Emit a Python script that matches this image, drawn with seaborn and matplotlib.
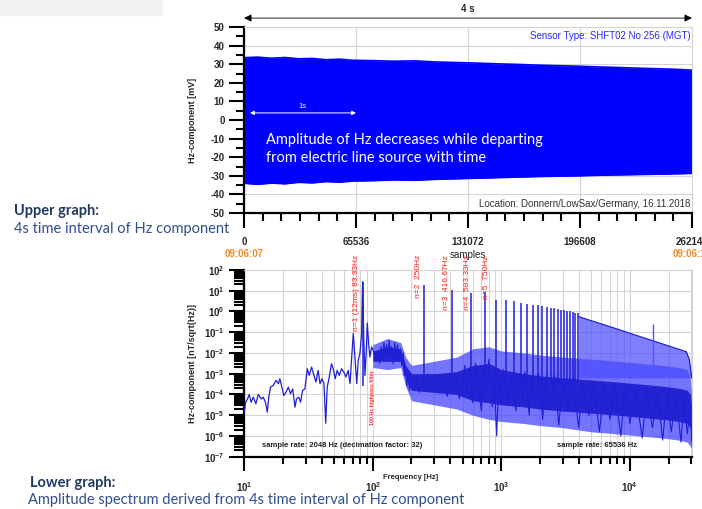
import numpy as np
import seaborn as sns
import matplotlib.pyplot as plt
from matplotlib.patches import Rectangle
from matplotlib.ticker import MultipleLocator, FixedLocator, FuncFormatter, LogLocator, NullFormatter

# ---- upper graph: envelope of the 4 s Hz time series ----
time_samples = [0, 8000, 16000, 24000, 32000, 40000, 48000, 56000, 64000, 76000, 88000,
                100000, 112000, 124000, 136000, 148000, 160000, 172000, 184000, 196000,
                208000, 220000, 232000, 244000, 254000, 262144]
upper_env = [33.5, 33.8, 33.2, 33.6, 32.9, 33.1, 32.4, 32.7, 32.1, 31.9, 31.6, 31.8, 31.2,
             30.9, 30.6, 30.2, 29.9, 29.5, 29.2, 28.9, 28.5, 28.2, 27.8, 27.5, 27.2, 26.8]
lower_env = [-34.0, -34.6, -33.9, -34.3, -33.5, -33.8, -33.1, -33.4, -32.8, -32.6, -32.2,
             -32.4, -31.9, -31.6, -31.3, -31.0, -30.7, -30.4, -30.2, -30.0, -29.7, -29.5,
             -29.3, -29.1, -28.9, -28.7]
sample_ticks = [0, 65536, 131072, 196608, 262144]

# ---- lower graph: amplitude spectrum (log10 of nT/sqrt(Hz)) ----
lf_freq = [10, 10.24, 10.6, 10.9, 11.3, 11.75, 12.3, 12.85, 13.5, 14.05, 14.6, 15.1, 15.5, 16.0,
           16.8, 17.65, 18.4, 18.9, 19.6, 20.3, 21.1, 22.0, 22.9, 23.8, 24.8, 25.5, 26.5, 27.4,
           28.4, 29.6, 30.9, 32.0, 33.4, 34.8, 36.1, 37.5, 38.8, 40.2, 41.7, 43.0, 44.2, 45.8,
           47.7, 49.2, 51.0, 52.8, 54.8, 57.1, 59.5, 61.8, 64.3, 66.5, 68.5, 70.5, 72.0, 75.0,
           77.0, 79.3, 81.7, 83.3, 85.0, 86.9, 89.0, 90.6, 92.8, 95.0, 97.9, 100.6, 105.8, 109.5,
           113, 116, 119, 122, 125, 128, 131, 134, 137, 140, 144, 148, 152, 156, 160, 164, 168,
           172, 176, 180, 184, 188, 193, 198]
lf_exp = [-4.85, -4.37, -4.21, -4.0, -4.37, -4.13, -4.45, -4.0, -4.21, -4.13, -4.37, -4.85,
          -4.13, -3.65, -3.56, -3.32, -3.48, -3.24, -3.65, -4.05, -3.89, -3.65, -3.97, -3.73,
          -4.61, -4.21, -4.13, -4.37, -3.81, -3.73, -2.76, -3.08, -2.68, -3.08, -3.4, -2.84,
          -3.48, -3.24, -3.48, -5.39, -3.65, -3.16, -2.52, -2.76, -3.24, -2.84, -3.08, -2.76,
          -2.92, -3.16, -2.84, -3.48, -2.19, -1.06, -1.87, -3.48, -2.35, -2.03, -1.15, 1.44,
          -1.23, -3.08, -1.87, -0.55, -1.55, -2.19, -1.71, -1.87, -2.35, -1.95, -2.5, -1.7,
          -2.3, -1.5, -2.1, -1.6, -2.4, -1.4, -2.0, -1.7, -2.5, -1.5, -2.2, -1.6, -2.4, -1.8,
          -2.6, -2.0, -3.1, -2.7, -3.6, -3.0, -3.8, -3.2]

mid_freq = [200, 210, 220, 230, 240, 260, 270, 285, 300, 315, 330, 345, 360, 380, 400, 430,
            450, 470, 500, 520, 540, 560, 600, 630, 660, 700, 730, 770, 800, 850, 880, 920,
            960, 1000, 1040, 1120, 1180, 1300, 1350, 1480, 1520, 1650, 1700, 1850, 1950, 2100,
            2200, 2400, 2600, 2800, 3000, 3300, 3600, 4000, 4300, 4800, 5200, 5800, 6300, 7000,
            7600, 8500, 9200, 10000, 11000, 12500, 13500, 15000, 16500, 18000, 19500, 21000,
            23000, 25000, 26500, 28000, 29500, 30300]
mid_exp = [-3.0, -3.6, -3.2, -3.9, -3.3, -3.5, -3.0, -3.8, -3.4, -3.9, -3.2, -3.7, -3.3, -4.1,
           -3.5, -3.8, -3.1, -4.2, -3.4, -2.6, -3.9, -3.0, -4.4, -2.5, -3.6, -4.8, -2.8, -3.7,
           -2.3, -4.6, -3.2, -6.0, -3.0, -4.2, -2.8, -4.5, -3.1, -4.8, -3.0, -4.3, -2.9, -5.0,
           -3.2, -4.4, -3.0, -5.2, -3.3, -4.6, -3.1, -5.5, -3.4, -4.8, -3.2, -5.6, -3.5, -5.0,
           -3.4, -5.8, -3.6, -5.2, -3.5, -6.0, -3.7, -5.4, -3.8, -6.1, -3.9, -5.6, -3.9, -6.2,
           -4.0, -5.8, -4.1, -6.3, -4.2, -5.9, -4.6, -6.3]

band_freq = [100, 130, 165, 180, 200, 300, 450, 600, 800, 1000, 1500, 2000, 3000, 5000, 8000,
             12000, 18000, 24000, 28000, 29500, 30300]
band_hi = [-1.6, -1.3, -1.5, -2.2, -2.6, -2.4, -2.2, -1.8, -1.7, -1.9, -2.0, -2.1, -2.2, -2.3,
           -2.4, -2.5, -2.6, -2.7, -2.8, -3.2, -4.0]
band_lo = [-2.7, -2.8, -2.7, -3.6, -4.3, -4.5, -4.7, -5.0, -5.2, -5.3, -5.4, -5.5, -5.6, -5.8,
           -5.9, -6.0, -6.1, -6.2, -6.3, -6.5, -6.6]
core_hi = [-1.9, -1.7, -1.8, -2.6, -3.0, -3.0, -2.9, -2.6, -2.5, -2.8, -3.0, -3.1, -3.2, -3.3,
           -3.4, -3.5, -3.6, -3.7, -3.8, -4.0, -4.6]
core_lo = [-2.4, -2.4, -2.4, -3.2, -3.8, -3.9, -4.0, -4.3, -4.4, -4.5, -4.6, -4.7, -4.8, -4.9,
           -5.0, -5.1, -5.2, -5.3, -5.4, -5.6, -6.0]

harm_freq = [83.33, 250, 416.67, 583.33, 750, 916.67, 1083.33, 1250, 1416.67, 1583.33, 1750,
             1916.67, 2083.33, 2250, 2416.67, 2583.33, 2750, 2916.67, 3083.33, 3250, 3416.67,
             3583.33, 3750, 3916.67]
harm_exp = [1.44, 1.28, 1.04, 0.89, 0.95, 0.55, 0.55, 0.52, 0.41, 0.38, 0.33, 0.30, 0.25, 0.22,
            0.18, 0.15, 0.12, 0.08, 0.05, 0.02, 0.0, -0.03, -0.05, -0.08]
comb_freq = [4000, 6000, 8000, 10000, 13000, 16000, 20000, 24000, 27500, 29000, 30300]
comb_top = [-0.25, -0.6, -0.85, -1.05, -1.28, -1.46, -1.66, -1.82, -1.94, -2.3, -3.2]
spike_freq = [15100]
spike_exp = [-0.6]

harm_labels = ["n=1 (12ms) 83.33Hz", "n=2  250Hz", "n=3  416.67Hz", "n=4  583.33Hz", "n=5  750Hz"]
harm_label_x = [74, 226, 372, 544, 760]

BLUE = "#0000ff"
SPEC = "#1f1fd6"
GRID = "#d4d4d4"


def amp(exps):
    return [10.0 ** e for e in exps]


sns.set_theme(style="white")
plt.rcParams["font.family"] = ["Liberation Sans", "DejaVu Sans"]
plt.rcParams["mathtext.fontset"] = "custom"
plt.rcParams["mathtext.rm"] = "Liberation Sans"
plt.rcParams["mathtext.bf"] = "Liberation Sans:bold"
plt.rcParams["axes.unicode_minus"] = False

fig = plt.figure(figsize=(7.02, 5.09), dpi=100)
fig.patches.append(Rectangle((0, 1 - 15 / 509), 162 / 702, 15 / 509,
                             transform=fig.transFigure, color="#f2f2f2", zorder=0))

# ================= upper graph =================
ax1 = fig.add_axes([244 / 702, 1 - 213 / 509, 448 / 702, 186 / 509])
ax1.fill_between(time_samples, lower_env, upper_env, color=BLUE, lw=0, zorder=2)
sns.lineplot(x=time_samples, y=upper_env, ax=ax1, color=BLUE, lw=1.2, estimator=None, sort=False, zorder=2)
sns.lineplot(x=time_samples, y=lower_env, ax=ax1, color=BLUE, lw=1.2, estimator=None, sort=False, zorder=2)
ax1.set_xlim(0, 262144)
ax1.set_ylim(-50, 50)
ax1.xaxis.set_major_locator(FixedLocator(sample_ticks))
ax1.xaxis.set_minor_locator(MultipleLocator(65536 / 6))
ax1.yaxis.set_major_locator(MultipleLocator(10))
ax1.yaxis.set_minor_locator(MultipleLocator(5))
ax1.set_xticklabels([str(s) for s in sample_ticks])
ax1.grid(True, which="major", color=GRID, lw=0.8, zorder=0)
ax1.set_axisbelow(True)
ax1.set_ylabel("Hz-component [mV]", fontsize=6.5, fontweight="bold")
ax1.yaxis.set_label_coords(-0.105, 0.5)

ax1.annotate("", xy=(262144, 1.048), xytext=(0, 1.048), xycoords=("data", "axes fraction"),
             textcoords=("data", "axes fraction"), annotation_clip=False,
             arrowprops=dict(arrowstyle="<|-|>", color="black", lw=0.6, mutation_scale=11,
                             shrinkA=0, shrinkB=0))
ax1.text(131072, 1.095, "4 s", transform=ax1.get_xaxis_transform(), ha="center", va="center",
         fontsize=7, fontweight="bold")
ax1.text(261500, 0.952, "Sensor Type: SHFT02 No 256 (MGT)", transform=ax1.get_xaxis_transform(),
         ha="right", va="center", fontsize=7, color="#2a2aff")
ax1.text(261000, 0.048, "Location: Donnern/LowSax/Germany, 16.11.2018",
         transform=ax1.get_xaxis_transform(), ha="right", va="center", fontsize=7, color="#333333")
ax1.annotate("", xy=(65536, 3.8), xytext=(3500, 3.8),
             arrowprops=dict(arrowstyle="<|-|>", color="white", lw=0.7, mutation_scale=6,
                             shrinkA=0, shrinkB=0))
ax1.text(34000, 7.0, "1s", ha="center", va="center", fontsize=5.5, color="white")
ax1.text(12900, -10.8, "Amplitude of Hz decreases while departing", ha="left", va="center",
         fontsize=10.5, color="white", family="Lato")
ax1.text(12900, -20.4, "from electric line source with time", ha="left", va="center",
         fontsize=10.5, color="white", family="Lato")
ax1.text(0, -0.22, "09:06:07", transform=ax1.get_xaxis_transform(), ha="center", va="center",
         fontsize=7, fontweight="bold", color="#f08a24", clip_on=False)
ax1.text(262144, -0.22, "09:06:11", transform=ax1.get_xaxis_transform(), ha="center", va="center",
         fontsize=7, fontweight="bold", color="#f08a24", clip_on=False)
ax1.text(131072, -0.226, "samples", transform=ax1.get_xaxis_transform(), ha="center", va="center",
         fontsize=7, color="#222222", clip_on=False)

# ================= lower graph =================
ax2 = fig.add_axes([244.3 / 702, 1 - 456.7 / 509, 447.4 / 702, 186.7 / 509])
ax2.set_xscale("log")
ax2.set_yscale("log")
ax2.fill_between(band_freq, amp(band_lo), amp(band_hi), color="#4646ff", alpha=0.75, lw=0, zorder=2)
ax2.fill_between(band_freq, amp(core_lo), amp(core_hi), color="#1616cc", alpha=0.85, lw=0, zorder=2)
ax2.fill_between(comb_freq, [10 ** -3.2] * len(comb_freq), amp(comb_top), color="#4a4aff",
                 alpha=0.7, lw=0, zorder=2)
sns.lineplot(x=comb_freq, y=amp(comb_top), ax=ax2, color=SPEC, lw=0.9, estimator=None, sort=False, zorder=3)
ax2.vlines(harm_freq, 10 ** -3.6, amp(harm_exp), color=SPEC, lw=1.1, zorder=3)
ax2.vlines(spike_freq, 10 ** -3.0, amp(spike_exp), color="#5050ff", lw=1.0, zorder=3)
sns.lineplot(x=mid_freq, y=amp(mid_exp), ax=ax2, color=SPEC, lw=0.8, estimator=None, sort=False, zorder=3)
sns.lineplot(x=lf_freq, y=amp(lf_exp), ax=ax2, color=SPEC, lw=0.9, estimator=None, sort=False, zorder=3)

ax2.set_xlim(10, 30300)
ax2.set_ylim(1e-7, 1e2)
ax2.xaxis.set_major_locator(FixedLocator([10, 100, 1000, 10000]))
ax2.xaxis.set_minor_locator(LogLocator(base=10, subs=np.arange(2, 10), numticks=20))
ax2.xaxis.set_minor_formatter(NullFormatter())
ax2.yaxis.set_major_locator(LogLocator(base=10, numticks=20))
ax2.yaxis.set_minor_locator(LogLocator(base=10, subs=np.arange(2, 10), numticks=20))
ax2.yaxis.set_minor_formatter(NullFormatter())
pow_fmt = FuncFormatter(lambda v, pos: r"$\mathbf{10^{%d}}$" % int(round(np.log10(v))))
ax2.xaxis.set_major_formatter(pow_fmt)
ax2.yaxis.set_major_formatter(pow_fmt)
ax2.grid(True, which="major", color=GRID, lw=0.8, zorder=0)
ax2.grid(True, which="minor", axis="x", color=GRID, lw=0.8, zorder=0)
ax2.set_axisbelow(True)
ax2.set_ylabel("Hz-component [nT/sqrt(Hz)]", fontsize=6.5, fontweight="bold")
ax2.yaxis.set_label_coords(-0.105, 0.5)
ax2.text(0.309, -0.113, "Frequency [Hz]", transform=ax2.transAxes, ha="left", va="center",
         fontsize=5.5, fontweight="bold")

for lab, fx in zip(harm_labels, harm_label_x):
    ax2.text(fx, 1.080, lab, transform=ax2.get_xaxis_transform(), rotation=90, ha="center",
             va="top", fontsize=6, color="#ff1a1a", clip_on=False)
ax2.text(100, 10 ** -2.85, "100 Hz highpass filter", rotation=90, ha="center", va="top",
         fontsize=3.8, color="#ff3030", fontweight="bold")
ax2.text(13.8, 10 ** -6.45, "sample rate: 2048 Hz (decimation factor: 32)", ha="left", va="center",
         fontsize=5.5, fontweight="bold", color="#222222")
ax2.text(2700, 10 ** -6.45, "sample rate: 65536 Hz", ha="left", va="center",
         fontsize=5.5, fontweight="bold", color="#222222")

# ---- shared axis styling ----
for ax in (ax1, ax2):
    for side in ("left", "bottom"):
        ax.spines[side].set_color("black")
        ax.spines[side].set_linewidth(1.6)
    for side in ("top", "right"):
        ax.spines[side].set_color(GRID)
        ax.spines[side].set_linewidth(0.8)
    ax.tick_params(which="both", direction="out", color="black", width=1.5,
                   left=True, bottom=True, top=False, right=False)
    ax.tick_params(which="major", length=11, labelsize=7, pad=3)
    ax.tick_params(which="minor", length=6)
    for lbl in ax.get_xticklabels() + ax.get_yticklabels():
        lbl.set_fontweight("bold")
ax1.tick_params(axis="x", which="major", pad=6)
ax2.tick_params(axis="x", which="major", length=10, pad=7)
ax2.tick_params(axis="x", which="minor", length=5)
ax2.tick_params(axis="y", which="minor", length=7)

# ---- slide text ----
fig.text(14 / 702, 1 - 211 / 509, "Upper graph:", fontsize=10.5, fontweight="bold",
         color="#1f3864", family="Lato", va="center")
fig.text(14 / 702, 1 - 229 / 509, "4s time interval of Hz component", fontsize=10.5,
         color="#2f4f8f", family="Lato", va="center")
fig.text(30 / 702, 1 - 483 / 509, "Lower graph:", fontsize=10.5, fontweight="bold",
         color="#1f3864", family="Lato", va="center")
fig.text(28 / 702, 1 - 500 / 509, "Amplitude spectrum derived from 4s time interval of Hz component",
         fontsize=10.5, color="#2f4f8f", family="Lato", va="center")

fig.savefig("out.png", dpi=100)
